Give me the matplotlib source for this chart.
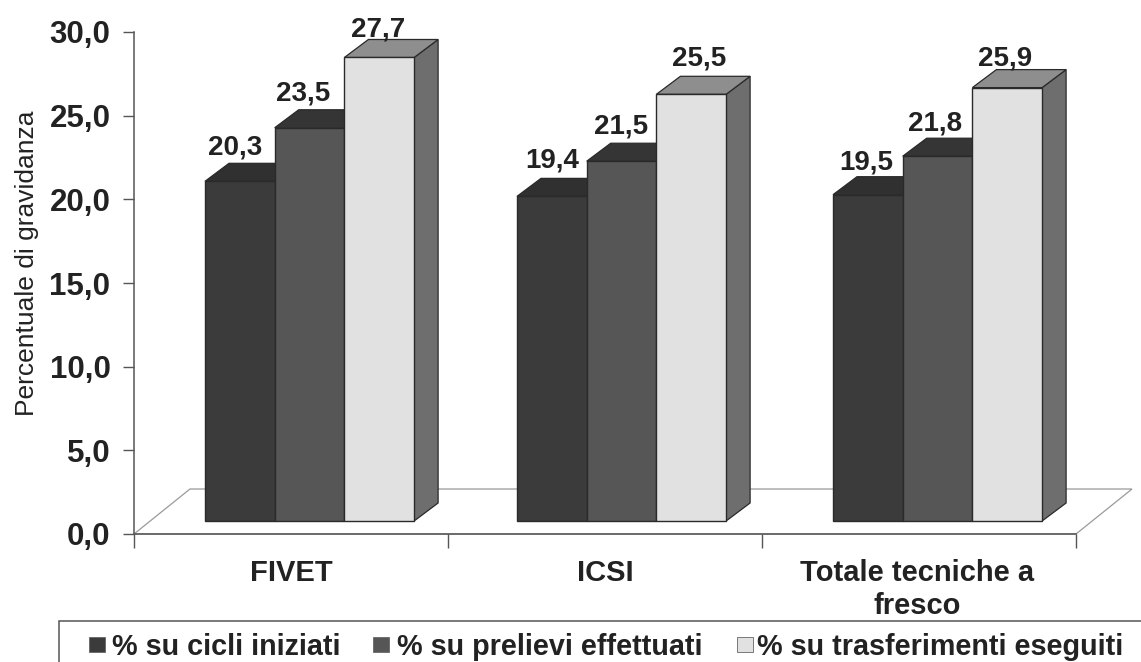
import matplotlib
matplotlib.use("Agg")
import matplotlib.pyplot as plt
from matplotlib.patches import Polygon, Rectangle

plt.rcParams['font.family'] = ['Liberation Sans', 'DejaVu Sans']

categorie = ["FIVET", "ICSI", "Totale tecniche a\nfresco"]
serie = ["% su cicli iniziati", "% su prelievi effettuati", "% su trasferimenti eseguiti"]
iniziati = [20.3, 19.4, 19.5]
prelievi = [23.5, 21.5, 21.8]
trasferimenti = [27.7, 25.5, 25.9]
yticks = [0, 5, 10, 15, 20, 25, 30]

valori = [iniziati, prelievi, trasferimenti]
fronte = ['#3b3b3b', '#565656', '#e1e1e1']
sopra = ['#303030', '#353535', '#8e8e8e']
lato = '#6e6e6e'
testo = '#222222'

W, H = 1141, 662
fig = plt.figure(figsize=(W / 100, H / 100), dpi=100, facecolor='white')
# assi: x da 134 a 1076 px, y=0 a 534 px, y=30 a 32 px
ax = fig.add_axes([134 / W, 1 - 534 / H, (1076 - 134) / W, (534 - 32) / H])
ax.set_xlim(0, 3)
ax.set_ylim(0, 30)
ax.patch.set_visible(False)

px = 3 / (1076 - 134)
py = 30 / (534 - 32)

# pavimento
fx, fy = 56 * px, 45 * py
ax.add_patch(Polygon([(0, 0), (fx, fy), (3 + fx, fy), (3, 0)], closed=True, fc='white',
                     ec='#9a9a9a', lw=0.9, clip_on=False, zorder=1))

base = 13 * py
dx, dy = 24 * px, 18 * py
larg = 69.7 * px
inizio = [71 * px, 69 * px, 71 * px]

# spostamenti delle etichette in pixel, per serie e gruppo
nudge_x = [[-5, 0, -2], [-6, 0, -2], [-1, 8, -2]]
nudge_y = [[34, 36, 32], [34, 35, 33], [28, 36, 29]]

for g in range(3):
    for s in range(2, -1, -1):
        x0 = g + inizio[g] + s * larg
        x1 = x0 + larg
        h = valori[s][g] + base
        # lato e faccia superiore
        ax.add_patch(Polygon([(x1, base), (x1 + dx, base + dy), (x1 + dx, h + dy), (x1, h)],
                             fc=lato if s == 2 else '#2e2e2e', ec='#2a2a2a', lw=0.9, clip_on=False, zorder=2 + s))
        ax.add_patch(Polygon([(x0, h), (x0 + dx, h + dy), (x1 + dx, h + dy), (x1, h)],
                             fc=sopra[s], ec='#2a2a2a', lw=0.9, clip_on=False, zorder=2 + s))
        ax.add_patch(Rectangle((x0, base), larg, valori[s][g], fc=fronte[s], ec='#2a2a2a',
                               lw=1.0, clip_on=False, zorder=2 + s))
        ax.text(x0 + 0.5 * larg + nudge_x[s][g] * px, h + nudge_y[s][g] * py,
                f"{valori[s][g]:.1f}".replace('.', ','),
                ha='center', va='center', fontsize=20, fontweight='bold', color=testo, zorder=10)

for lato_ax in ['top', 'right']:
    ax.spines[lato_ax].set_visible(False)
for lato_ax in ['left', 'bottom']:
    ax.spines[lato_ax].set_color('#555555')
    ax.spines[lato_ax].set_linewidth(1.1)

ax.set_yticks(yticks)
ax.set_yticklabels([f"{v:.1f}".replace('.', ',') for v in yticks], fontsize=22.5,
                   fontweight='bold', color=testo)
ax.set_xticks([0, 1, 2, 3])
ax.set_xticklabels([])
ax.tick_params(axis='y', length=8, width=1, color='#555555', pad=9)
ax.tick_params(axis='x', length=10, width=1, color='#555555')
for i, c in enumerate(categorie):
    ax.text(i + 0.5 - 0.006 * (i == 2), -1.5, c, ha='center', va='top', fontsize=21, fontweight='bold',
            color=testo, linespacing=1.22)
ax.set_ylabel("Percentuale di gravidanza", fontsize=19, color=testo)
ax.yaxis.set_label_coords((39 - 134) / (1076 - 134), 0.54)

# legenda, tagliata dal bordo della figura
leg = fig.add_axes([0, 0, 1, 1], zorder=5)
leg.set_xlim(0, W)
leg.set_ylim(H, 0)
leg.axis('off')
leg.patch.set_visible(False)
leg.add_patch(Rectangle((58.5, 620.5), W, 60, fc='white', ec='#555555', lw=1.1))
posti = [(89, 112), (373, 397), (737, 757)]
for (qx, tx), nome, col in zip(posti, serie, fronte):
    leg.add_patch(Rectangle((qx, 637), 16, 15, fc=col, ec='#666666', lw=0.6))
    leg.text(tx, 647, nome, ha='left', va='center', fontsize=20.7, fontweight='bold', color=testo)

fig.savefig("out.png", dpi=100)
